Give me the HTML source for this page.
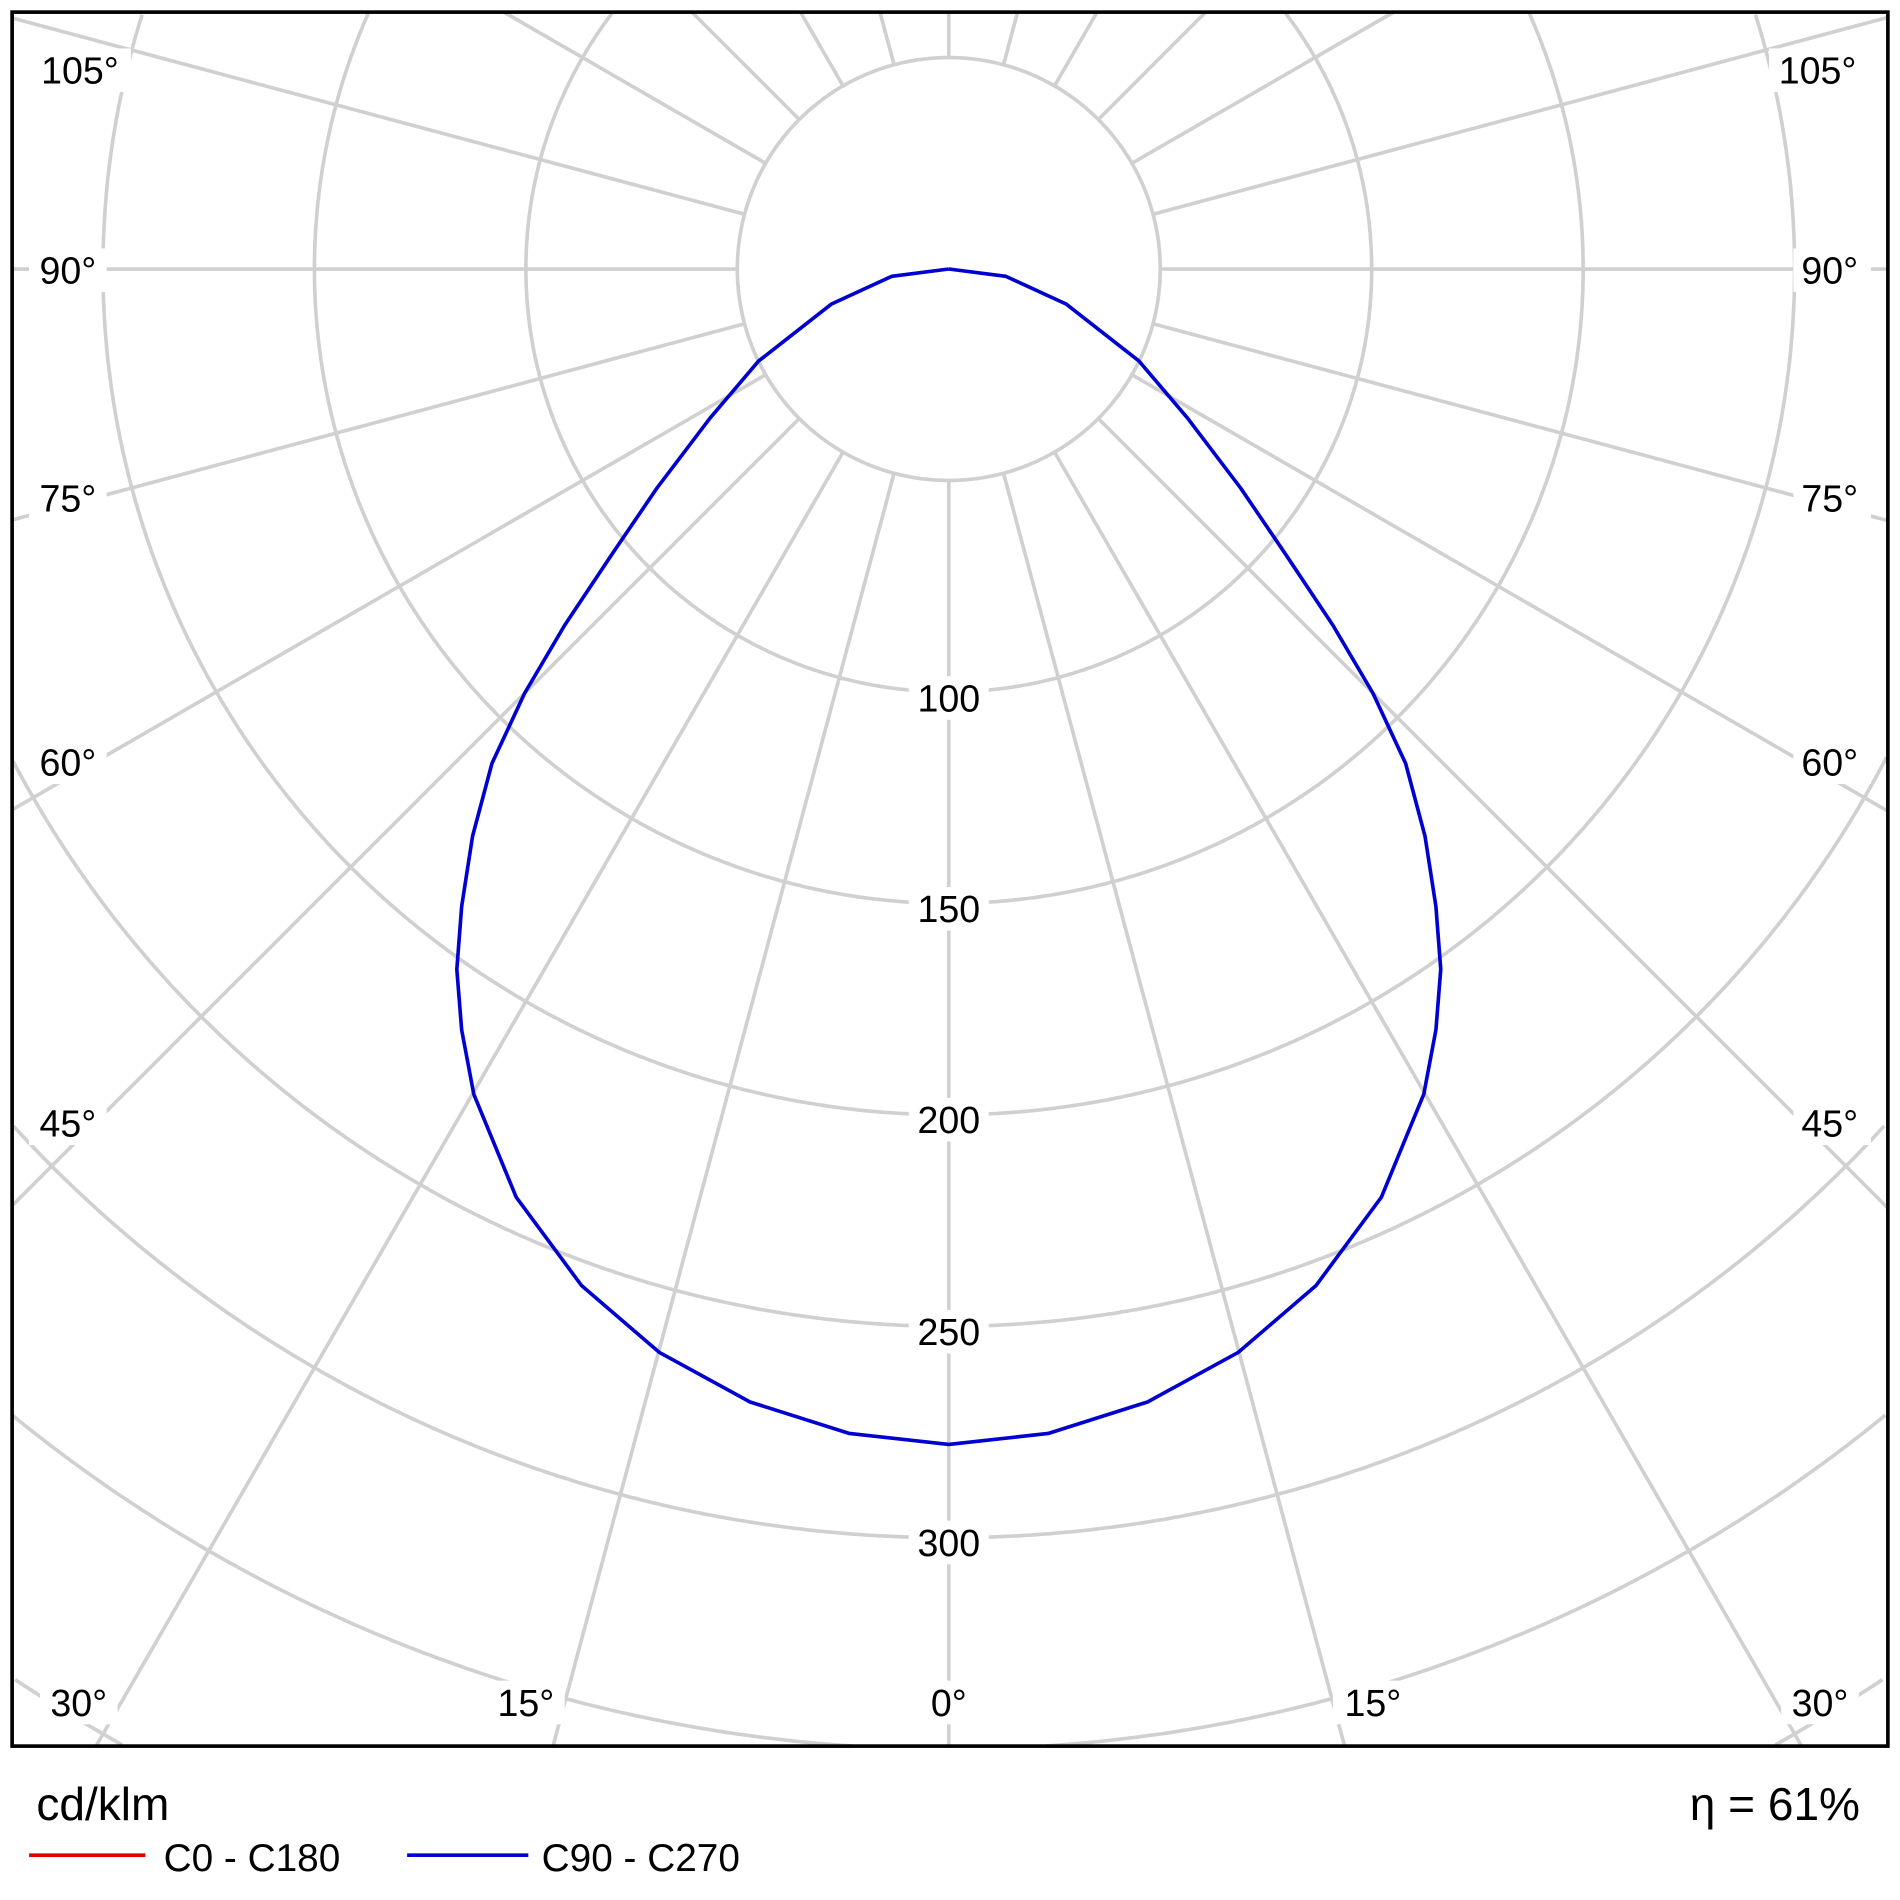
<!DOCTYPE html>
<html><head><style>html,body{margin:0;padding:0;background:#fff;overflow:hidden;width:1900px;height:1900px}svg{display:block}</style></head>
<body>
<svg width="1900" height="1900" viewBox="0 0 1568 1568" xmlns="http://www.w3.org/2000/svg" font-family="'Liberation Sans', 'DejaVu Sans', sans-serif">
<g id="grid" stroke="#d0d0d0" stroke-width="3" fill="none"></g>
<script>
(function(){var g=document.getElementById('grid'),ns='http://www.w3.org/2000/svg';
var X0=10,X1=1558,Y0=10,Y1=1441,cx=783,cy=222;
function inside(x,y){return x>=X0&&x<=X1&&y>=Y0&&y<=Y1;}
for(var k=1;k<=10;k++){var r=174.5*k,run=[];
 function flush(){if(run.length>1){var p=document.createElementNS(ns,'polyline');p.setAttribute('points',run.join(' '));g.appendChild(p);}run=[];}
 for(var i=0;i<=1440;i++){var t=i*Math.PI/720,x=cx+r*Math.sin(t),y=cy+r*Math.cos(t);
  if(inside(x,y))run.push(x.toFixed(1)+','+y.toFixed(1));else flush();}
 flush();}
for(var a=0;a<360;a+=15){var t=a*Math.PI/180,s=Math.sin(t),c=Math.cos(t);
 var T=1e9;if(s>1e-9)T=Math.min(T,(X1-cx)/s);if(s<-1e-9)T=Math.min(T,(X0-cx)/s);
 if(c>1e-9)T=Math.min(T,(Y1-cy)/c);if(c<-1e-9)T=Math.min(T,(Y0-cy)/c);
 var l=document.createElementNS(ns,'line');l.setAttribute('x1',cx+174.5*s);l.setAttribute('y1',cy+174.5*c);
 l.setAttribute('x2',cx+T*s);l.setAttribute('y2',cy+T*c);g.appendChild(l);}})();
</script>
<polyline fill="none" stroke="#0000d0" stroke-width="3" stroke-linejoin="round" points="783,222 830,228 880,251 940,298 980,345 1024,403 1060,456 1100,516 1133,572 1160,630 1176,690 1185,748 1189,800 1185,850 1175,903 1140,988 1086,1061 1022,1116 947,1157 865,1183 783,1192 701,1183 619,1157 544,1116 480,1061 426,988 391,903 381,850 377,800 381,748 390,690 406,630 433,572 466,516 506,456 542,403 586,345 626,298 686,251 736,228 783,222"/>
<g font-size="31" fill="#000" text-anchor="middle">
<g fill="#fff" stroke="none">
<rect x="750" y="558" width="66" height="36"/><rect x="750" y="732" width="66" height="36"/><rect x="750" y="906" width="66" height="36"/>
<rect x="750" y="1081" width="66" height="36"/><rect x="750" y="1255" width="66" height="36"/>
<rect x="24" y="40" width="84" height="36"/><rect x="24" y="205" width="64" height="36"/><rect x="24" y="393" width="64" height="36"/><rect x="24" y="611" width="64" height="36"/><rect x="24" y="909" width="64" height="36"/>
<rect x="1460" y="40" width="84" height="36"/><rect x="1480" y="205" width="64" height="36"/><rect x="1480" y="393" width="64" height="36"/><rect x="1480" y="611" width="64" height="36"/><rect x="1480" y="909" width="64" height="36"/>
<rect x="33" y="1387" width="64" height="36"/><rect x="402" y="1387" width="64" height="36"/><rect x="760" y="1387" width="46" height="36"/><rect x="1100" y="1387" width="64" height="36"/><rect x="1470" y="1387" width="64" height="36"/>
</g>
<text x="783" y="587">100</text><text x="783" y="761">150</text><text x="783" y="935">200</text><text x="783" y="1110">250</text><text x="783" y="1284">300</text>
<text x="66" y="69">105°</text><text x="56" y="234">90°</text><text x="56" y="422">75°</text><text x="56" y="640">60°</text><text x="56" y="938">45°</text>
<text x="1500" y="69">105°</text><text x="1510" y="234">90°</text><text x="1510" y="422">75°</text><text x="1510" y="640">60°</text><text x="1510" y="938">45°</text>
<text x="65" y="1416">30°</text><text x="434" y="1416">15°</text><text x="783" y="1416">0°</text><text x="1133" y="1416">15°</text><text x="1502" y="1416">30°</text>
</g>
<rect x="10" y="10" width="1548" height="1431" fill="none" stroke="#000" stroke-width="3"/>
<text x="30" y="1502" font-size="38">cd/klm</text>
<text x="1535" y="1502" font-size="38" text-anchor="end">η = 61%</text>
<line x1="24" y1="1531" x2="120" y2="1531" stroke="#e00000" stroke-width="3"/>
<text x="135" y="1544" font-size="32">C0 - C180</text>
<line x1="336" y1="1531" x2="436" y2="1531" stroke="#0000d0" stroke-width="3"/>
<text x="447" y="1544" font-size="32">C90 - C270</text>
</svg>
</body></html>
